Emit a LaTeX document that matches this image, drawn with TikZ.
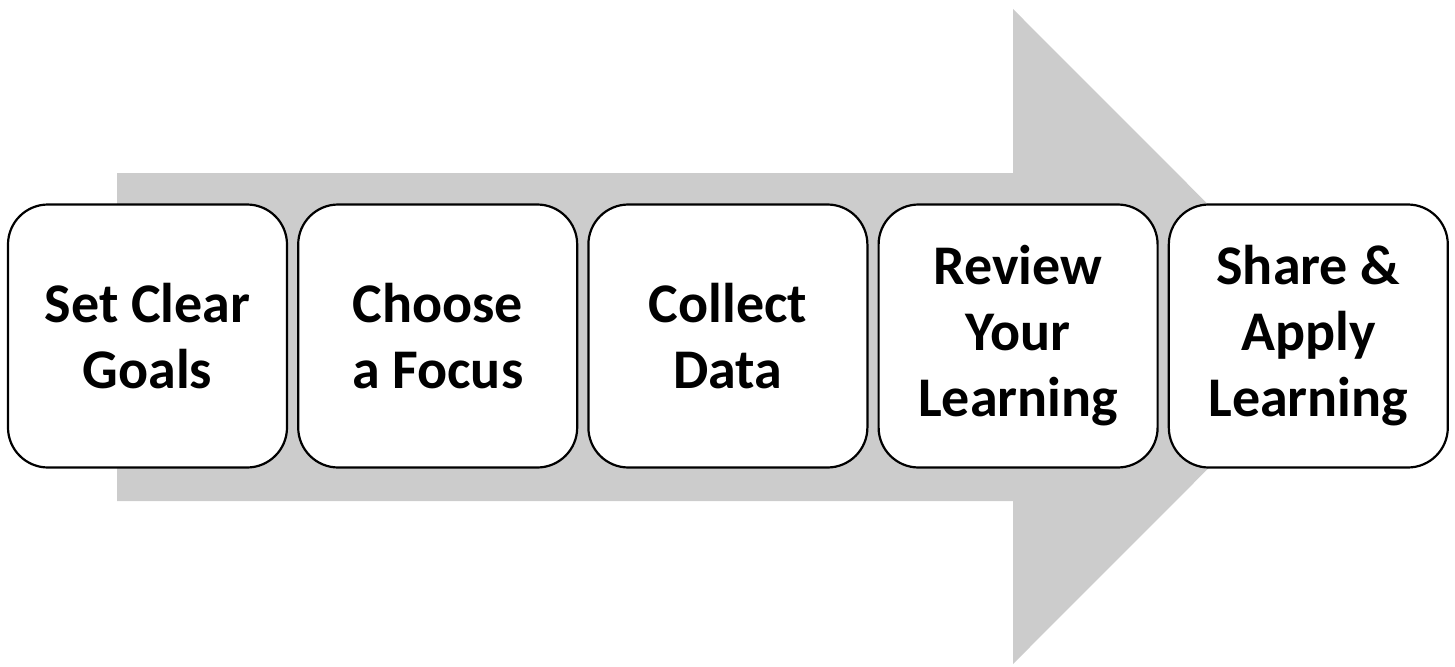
\documentclass[tikz,border=0pt]{standalone}
\usepackage{fontspec}
\setmainfont{Carlito}
\usetikzlibrary{positioning}

\definecolor{arrowgray}{RGB}{204,204,204}

\tikzset{
  stepbox/.style={draw=black, line width=1.1pt, fill=white, rounded corners=20pt,
    minimum width=139.5pt, minimum height=131.5pt, align=center,
    font=\fontsize{28}{33}\selectfont\bfseries, inner sep=0pt}
}

\begin{document}
\begin{tikzpicture}[x=0.5pt, y=0.5pt]
      \useasboundingbox (0,0) rectangle (1455,666);

      % big process arrow behind the steps
      \fill[arrowgray] (117,165) -- (117,493) -- (1013,493) -- (1013,657)
        -- (1340,329.5) -- (1013,2) -- (1013,165) -- cycle;

      \foreach \i/\txt in {1/{Set Clear\\Goals}, 2/{Choose\\a Focus},
                           3/{Collect\\Data}, 4/{Review\\Your\\Learning},
                           5/{Share \&\\Apply\\Learning}} {
        \node[stepbox] (s\i) at ({147.5+290.2*(\i-1)},330) {\txt};
      }
    \end{tikzpicture}
\end{document}
